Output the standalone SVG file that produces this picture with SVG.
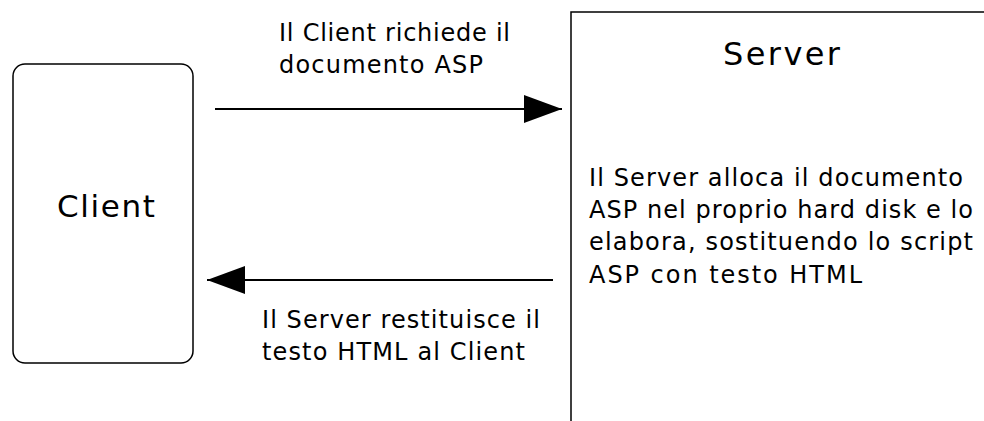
<svg xmlns="http://www.w3.org/2000/svg" width="984" height="421" viewBox="0 0 984 421">
<defs>
<style>
.box{fill:#fff;stroke:#000;stroke-width:1.5}
.t{font-family:"DejaVu Sans",Verdana,sans-serif;font-size:24px;fill:#000}
.big{font-family:"DejaVu Sans",Verdana,sans-serif;font-size:31px;fill:#000}
.ln{stroke:#000;stroke-width:2;fill:none}
</style>
<marker id="ah" markerUnits="userSpaceOnUse" markerWidth="40" markerHeight="30" refX="38" refY="14" orient="auto">
<path d="M0,0 L38,14 L0,28 Z" fill="#000"/>
</marker>
</defs>
<rect width="984" height="421" fill="#fff"/>
<g id="client">
<rect class="box" x="13" y="64" width="180" height="299" rx="12" ry="12"/>
<text class="big" x="57" y="217" textLength="98" lengthAdjust="spacing">Client</text>
</g>
<g id="server">
<rect class="box" x="571" y="12" width="430" height="430"/>
<text class="big" x="723" y="65" textLength="117" lengthAdjust="spacing" style="font-size:32px">Server</text>
<text class="t" x="589" y="186" textLength="374" lengthAdjust="spacing">Il Server alloca il documento</text>
<text class="t" x="589" y="218" textLength="384" lengthAdjust="spacing">ASP nel proprio hard disk e lo</text>
<text class="t" x="589" y="250" textLength="384" lengthAdjust="spacing">elabora, sostituendo lo script</text>
<text class="t" x="589" y="283" textLength="273" lengthAdjust="spacing">ASP con testo HTML</text>
</g>
<g id="connectors">
<line class="ln" x1="215" y1="109" x2="562" y2="109" marker-end="url(#ah)"/>
<line class="ln" x1="553" y1="280" x2="207" y2="280" marker-end="url(#ah)"/>
<text class="t" x="279" y="41" textLength="231" lengthAdjust="spacing">Il Client richiede il</text>
<text class="t" x="279" y="73" textLength="204" lengthAdjust="spacing">documento ASP</text>
<text class="t" x="262" y="328" textLength="278" lengthAdjust="spacing">Il Server restituisce il</text>
<text class="t" x="262" y="360" textLength="263" lengthAdjust="spacing">testo HTML al Client</text>
</g>
</svg>
